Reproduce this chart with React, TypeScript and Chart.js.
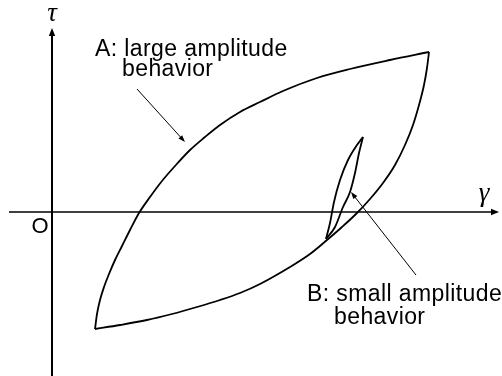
import React, { useEffect, useRef } from "react";
import { Chart, registerables } from "chart.js";

Chart.register(...registerables);

// Large-amplitude loop A (gamma, tau)
const loopAUpperGamma = [43, 45, 48, 52, 57, 63, 70, 78, 87, 98, 110, 123, 138, 153, 168, 188, 208, 231, 265, 298, 338, 377];
const loopAUpperTau = [-117, -102, -88, -75, -62, -48, -34, -18, -1, 15, 31, 46, 62, 75, 87, 100, 110, 121, 134, 143, 152, 160];
const loopALowerGamma = [43, 68, 95, 120, 145, 168, 188, 208, 238, 258, 275, 290, 305, 318, 331, 343, 353, 361, 367, 372, 375, 377];
const loopALowerTau = [-117, -113, -108, -102, -95, -88, -81, -72, -55, -42, -28, -15, -1, 13, 29, 47, 67, 87, 107, 127, 144, 160];

// Small-amplitude loop B
const loopBLeftGamma = [274, 278, 282, 288, 296, 305, 311];
const loopBLeftTau = [-27, -11, 10, 32, 52, 67, 75];
const loopBRightGamma = [274, 283, 291, 298, 303, 307, 311];
const loopBRightTau = [-27, -15, 5, 20, 39, 59, 75];

// Axis extents
const gammaRange = [-52, 450];
const tauRange = [-164, 212];

// Texts
const axisLabels = ["τ", "γ", "O"];
const labelA = ["A: large amplitude", "behavior"];
const labelB = ["B: small amplitude", "behavior"];

const toPts = (xs: number[], ys: number[]) => xs.map((x, i) => ({ x, y: ys[i] }));

function drawArrow(
  ctx: CanvasRenderingContext2D,
  x1: number, y1: number, x2: number, y2: number,
  len: number, half: number, lw: number
) {
  const a = Math.atan2(y2 - y1, x2 - x1);
  const bx = x2 - Math.cos(a) * len * 0.8;
  const by = y2 - Math.sin(a) * len * 0.8;
  ctx.lineWidth = lw;
  ctx.beginPath();
  ctx.moveTo(x1, y1);
  ctx.lineTo(bx, by);
  ctx.stroke();
  const px = -Math.sin(a), py = Math.cos(a);
  const hx = x2 - Math.cos(a) * len, hy = y2 - Math.sin(a) * len;
  ctx.beginPath();
  ctx.moveTo(x2, y2);
  ctx.lineTo(hx + px * half, hy + py * half);
  ctx.lineTo(hx - px * half, hy - py * half);
  ctx.closePath();
  ctx.fill();
}

const overlay = {
  id: "overlay",
  afterDatasetsDraw(chart: any) {
    const ctx: CanvasRenderingContext2D = chart.ctx;
    const xs = chart.scales.x, ys = chart.scales.y;
    const X = (v: number) => xs.getPixelForValue(v);
    const Y = (v: number) => ys.getPixelForValue(v);
    ctx.save();
    ctx.strokeStyle = "#000";
    ctx.fillStyle = "#000";
    // axes
    drawArrow(ctx, X(0), Y(-164), X(0), Y(184), 8, 3.2, 2);
    drawArrow(ctx, X(-43), Y(0), X(447), Y(0), 8, 3.2, 1.3);
    // annotation arrows
    drawArrow(ctx, X(85), Y(123), X(133), Y(70), 7, 2.5, 1);
    drawArrow(ctx, X(364), Y(-63), X(299), Y(20), 7, 2.5, 1);
    // axis labels
    ctx.textAlign = "center";
    ctx.textBaseline = "middle";
    ctx.font = 'italic 27px "Liberation Serif", "DejaVu Serif", serif';
    ctx.fillText(axisLabels[0], X(0), 14);
    ctx.fillText(axisLabels[1], X(432), Y(18));
    ctx.font = '22px "Liberation Sans", Arial, sans-serif';
    ctx.fillText(axisLabels[2], X(-12), Y(-15));
    // annotation texts
    ctx.textAlign = "left";
    ctx.textBaseline = "alphabetic";
    ctx.font = '23px "Liberation Sans", Arial, sans-serif';
    (ctx as any).letterSpacing = "0.4px";
    ctx.fillText(labelA[0], 95, 56);
    ctx.fillText(labelA[1], 122, 76);
    ctx.fillText(labelB[0], 307, 301);
    ctx.fillText(labelB[1], 334, 324);
    ctx.restore();
  },
};

export default function App() {
  const ref = useRef<HTMLCanvasElement | null>(null);
  useEffect(() => {
    if (!ref.current) return;
    const line = (xs: number[], ys: number[]) => ({
      data: toPts(xs, ys),
      showLine: true,
      borderColor: "#000",
      borderWidth: 1.8,
      pointRadius: 0,
      cubicInterpolationMode: "monotone" as const,
      fill: false,
    });
    const chart = new Chart(ref.current, {
      type: "scatter",
      data: {
        datasets: [
          line(loopAUpperGamma, loopAUpperTau),
          line(loopALowerGamma, loopALowerTau),
          line(loopBLeftGamma, loopBLeftTau),
          line(loopBRightGamma, loopBRightTau),
        ],
      },
      options: {
        animation: false,
        responsive: false,
        devicePixelRatio: 1,
        layout: { padding: 0 },
        plugins: { legend: { display: false }, tooltip: { enabled: false } },
        scales: {
          x: { type: "linear", display: false, min: gammaRange[0], max: gammaRange[1] },
          y: { type: "linear", display: false, min: tauRange[0], max: tauRange[1] },
        },
      },
      plugins: [overlay],
    });
    return () => chart.destroy();
  }, []);
  return (
    <div style={{ position: "fixed", left: 0, top: 0, width: 502, height: 376, background: "#fff" }}>
      <canvas ref={ref} width={502} height={376} style={{ display: "block" }} />
    </div>
  );
}
